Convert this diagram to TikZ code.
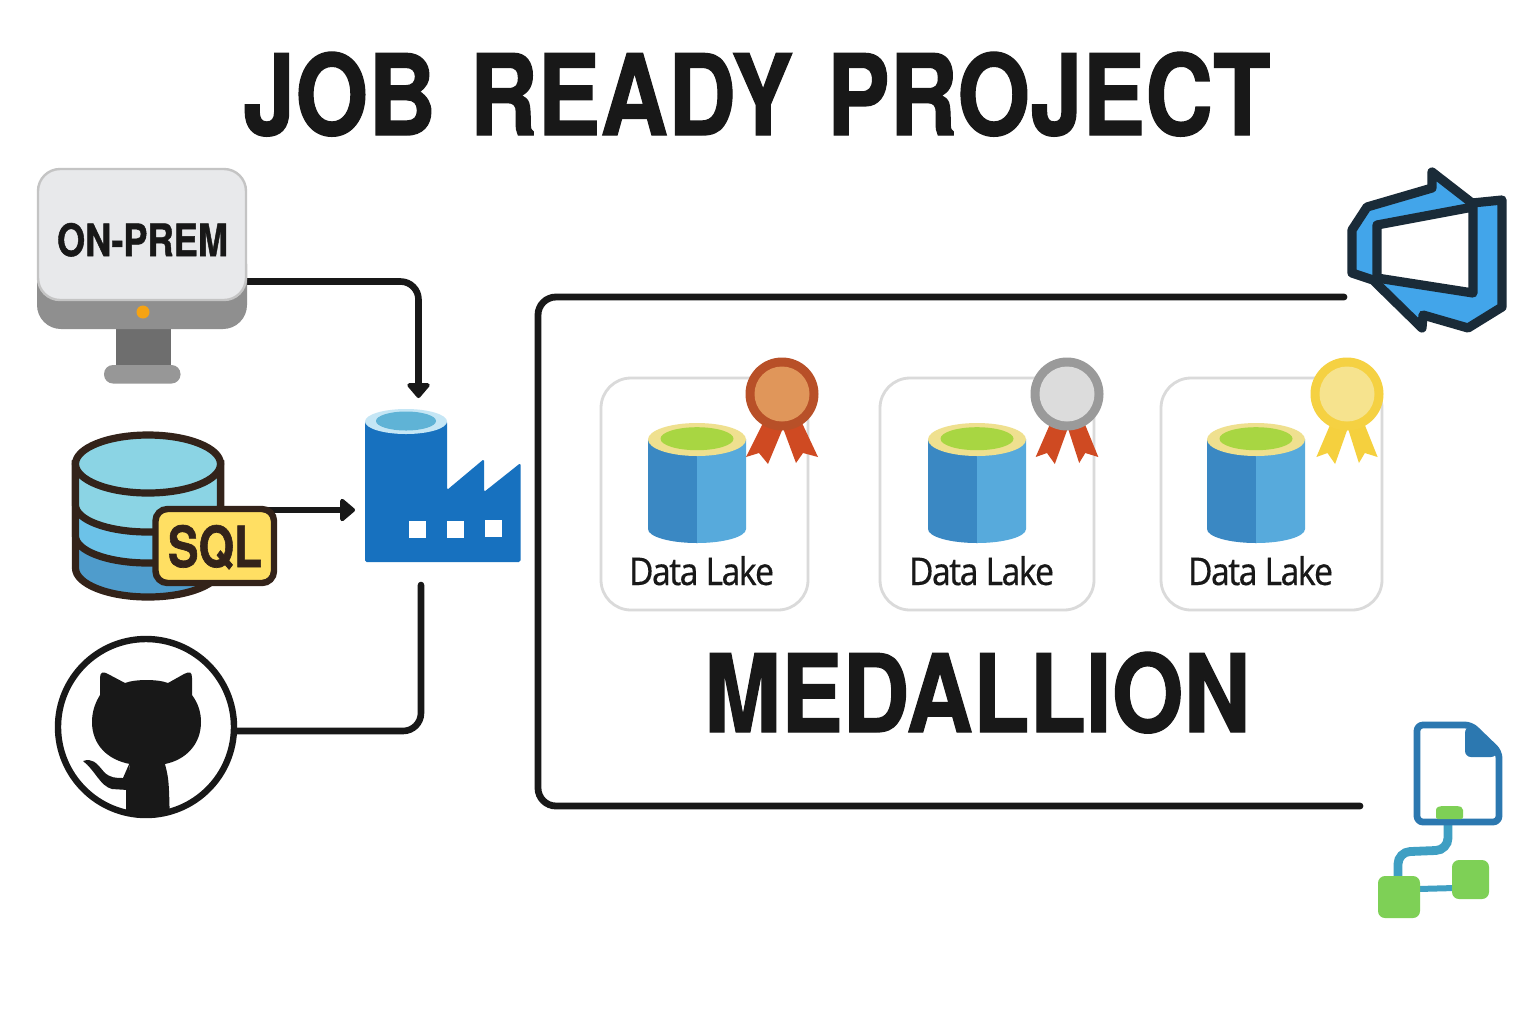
\documentclass[tikz,border=0pt]{standalone}
\usepackage{graphicx}
\usepackage{fontspec}
\setmainfont{TeX Gyre Heros}[BoldFeatures={FakeBold=1.2}]
\newfontfamily\labelfont{Noto Sans}[LetterSpace=-5,FakeBold=0.25]
\usetikzlibrary{arrows.meta}
\definecolor{ink}{HTML}{181818}
\definecolor{brownink}{HTML}{33231A}
\definecolor{devink}{HTML}{1A2B38}
\definecolor{devblue}{HTML}{42A5EA}
\definecolor{factoryblue}{HTML}{1771BF}
\definecolor{docblue}{HTML}{2C78B0}
\definecolor{linkblue}{HTML}{3F9FC3}
\definecolor{leaf}{HTML}{7ED056}
\definecolor{cardgrey}{HTML}{DADADA}
\tikzset{
  iconbox/.style={inner sep=0pt,outer sep=0pt},
  conn/.style={draw=ink,line width=3.3pt,rounded corners=9pt},
  arrowed/.style={-{Triangle[length=8pt,width=13pt,round]}},
  frameline/.style={draw=ink,line width=3.4pt,line cap=round,rounded corners=9pt},
  fitlabel/.style={inner sep=0pt,outer sep=0pt,anchor=base west,text=ink},
  dbline/.style={draw=brownink,line width=3.6pt},
  devline/.style={draw=devink,line width=4.6pt,line join=round},
  card/.style={draw=cardgrey,line width=1.4pt,fill=white,rounded corners=15pt,inner sep=0pt,outer sep=0pt}
}
% #1 name, #2 left, #3 right, #4 cylinder centre, #5 medal x, #6 ribbon scale, #7 ring, #8 disc, #9 ribbon
\newcommand\lakecard[9]{%
  \node[card,minimum width=(#3-#2)*0.5pt,minimum height=116pt] (#1) at ({(#2+#3)/2},494) {};
  \begin{scope}[shift={(#4,0)}]
    \fill[color={rgb,255:red,58;green,136;blue,195}] (-49,439) -- (-49,529) arc[start angle=180,end angle=90,x radius=49,y radius=14] -- (0,439) -- cycle;
    \fill[color={rgb,255:red,87;green,170;blue,220}] (0,439) -- (0,543) arc[start angle=90,end angle=0,x radius=49,y radius=14] -- (49,439) -- cycle;
    \fill[color={rgb,255:red,239;green,224;blue,143}] (0,439.5) ellipse[x radius=49,y radius=16.5];
    \fill[color={rgb,255:red,168;green,214;blue,66}] (0,438.7) ellipse[x radius=36.5,y radius=11.5];
  \end{scope}
  \node[fitlabel] (#1text) at (#4-68,585) {\resizebox{72.5pt}{14.5pt}{\labelfont Data Lake}};
  \begin{scope}[shift={(#5,394)},xscale=#6]
    \fill[color=#9] (-36,63) -- (-23,59) -- (-14,70) -- (1,34) -- (-19,29) -- cycle;
    \fill[color=#9] (1,34) -- (14,69) -- (21,59) -- (36,63) -- (20,29) -- cycle;
  \end{scope}
  \begin{scope}[shift={(#5,394)}]
    \fill[color=#7] (0,0) circle[radius=36.5];
    \fill[color=#8] (0,0) circle[radius=27.5];
  \end{scope}
}
\begin{document}
\begin{tikzpicture}[x=0.5pt,y=-0.5pt]
\useasboundingbox (0,0) rectangle (1536,1024);
\fill[white] (0,0) rectangle (1536,1024);

% Titles
\node[fitlabel] (title) at (243,135) {\resizebox{513.5pt}{41.5pt}{\bfseries JOB\hspace{0.08em} READY\hspace{0.08em} PROJECT}};

% Anchors of the connectors
\coordinate (armA) at (418.5,281.5);
\coordinate (armB) at (300,510);
\coordinate (armC) at (421,731);
\coordinate (armCend) at (421,585);
\coordinate (frameTop) at (538,297);
\coordinate (frameBottom) at (538,806);

% Named icon boxes
\node[iconbox,minimum width=105pt,minimum height=80.5pt] (onprem) at (142,248.5) {};
\node[iconbox,minimum width=83pt,minimum height=82pt] (factory) at (438,480) {};
\node[iconbox,minimum width=59.5pt,minimum height=40pt] (sqlbadge) at (214.5,546) {};
\node[iconbox,circle,minimum width=91pt] (github) at (146,727) {};
\node[iconbox,minimum width=80pt,minimum height=84pt] (devops) at (1427,250) {};
\node[iconbox,minimum width=64pt,minimum height=98pt] (pipeline) at (1426,820) {};

% Connectors
\draw[conn,arrowed] (onprem.east |- armA) -- (armA) -- (armA |- factory.north);
\draw[draw=ink,line width=2.8pt,arrowed,shorten <=-3pt] (sqlbadge.east |- armB) -- (factory.west |- armB);
\draw[conn,line cap=round] (github.east |- armC) -- (armC) -- (armCend);
\draw[frameline,shorten <=1.5pt,shorten >=1pt] (devops.west |- frameTop) -- (frameTop) -- (frameBottom) -- (pipeline.west |- frameBottom);

% Monitor
\fill[color={rgb,255:red,110;green,110;blue,110}] (116,325) rectangle (171,368);
\fill[color={rgb,255:red,151;green,151;blue,151},rounded corners=4.5pt] (104,365) rectangle (180.5,383.5);
\fill[color={rgb,255:red,143;green,143;blue,143},rounded corners=12pt] (37,240) rectangle (247,329);
\draw[draw={rgb,255:red,196;green,196;blue,196},line width=1.2pt,fill={rgb,255:red,232;green,233;blue,235},rounded corners=11pt] (38,169) rectangle (246,300);
\fill[color={rgb,255:red,245;green,163;blue,19}] (143,312) circle[radius=6.5];
\node[fitlabel] (onpremtext) at (57,256) {\resizebox{85.5pt}{16.5pt}{\bfseries ON-PREM}};

% Database
\draw[dbline,fill={rgb,255:red,79;green,156;blue,204}] (75.5,464) -- (75.5,568) arc[start angle=180,end angle=0,x radius=72.5,y radius=29] -- (220.5,464) -- cycle;
\draw[dbline,fill={rgb,255:red,108;green,194;blue,232}] (75.5,464) -- (75.5,536) arc[start angle=180,end angle=0,x radius=72.5,y radius=27] -- (220.5,464) -- cycle;
\draw[dbline,fill={rgb,255:red,139;green,212;blue,228}] (75.5,464) -- (75.5,505) arc[start angle=180,end angle=0,x radius=72.5,y radius=27] -- (220.5,464) -- cycle;
\draw[dbline,fill={rgb,255:red,139;green,212;blue,228}] (148,464) ellipse[x radius=72.5,y radius=29];
\draw[dbline,line width=3.2pt,fill={rgb,255:red,255;green,223;blue,99},rounded corners=6pt] (155.5,509) rectangle (274,583);
\node[fitlabel,text=brownink] (sqltext) at (168,567) {\resizebox{47pt}{21pt}{\bfseries SQL}};

% Factory
\fill[color=factoryblue,rounded corners=0.8pt] (365,421) -- (447,421) -- (447,490) -- (484,459) -- (484,492) -- (520.5,463) -- (520.5,562) -- (365,562) -- cycle;
\fill[color={rgb,255:red,197;green,230;blue,245}] (406,421.5) ellipse[x radius=41,y radius=12.5];
\fill[color={rgb,255:red,95;green,179;blue,214}] (406,421) ellipse[x radius=30,y radius=9.5];
\fill[white] (409,521) rectangle (426,538);
\fill[white] (447,521) rectangle (464,538);
\fill[white] (485,520) rectangle (502,537);

% GitHub
\begin{scope}
  \clip (146,727) circle[radius=90];
  \fill[color=ink] (100,678) .. controls (100,672) and (103,671) .. (108,674) -- (125,683) .. controls (135,679) and (158,679) .. (168,683) -- (184,674) .. controls (190,671) and (192,672) .. (192,678) -- (192,695) .. controls (198,703) and (201,712) .. (201,722) .. controls (201,745) and (185,760) .. (165,764) -- (130,764) .. controls (108,760) and (92,745) .. (92,722) .. controls (92,712) and (95,703) .. (100,695) -- cycle;
  \fill[color=ink] (131,760) -- (165,760) -- (165,764) .. controls (169,780) .. (170,830) -- (126,830) -- (126,788) -- cycle;
  \fill[color=ink] (83,761) .. controls (92,758) and (96,762) .. (104,772) .. controls (110,778) and (116,778) .. (123,778) -- (130,762) -- (128,790) -- (112,789) .. controls (100,786) and (95,770) .. (83,761) -- cycle;
\end{scope}
\draw[draw=ink,line width=3.2pt] (146,727) circle[radius=88];

% Data lake cards
\lakecard{bronze}{601}{808}{697}{782}{1}{{rgb,255:red,184;green,80;blue,40}}{{rgb,255:red,224;green,150;blue,90}}{{rgb,255:red,207;green,74;blue,34}}
\lakecard{silver}{880}{1094}{977}{1067}{0.87}{{rgb,255:red,154;green,154;blue,154}}{{rgb,255:red,220;green,220;blue,220}}{{rgb,255:red,207;green,74;blue,34}}
\lakecard{gold}{1161}{1382}{1256}{1347}{0.85}{{rgb,255:red,245;green,209;blue,66}}{{rgb,255:red,246;green,227;blue,142}}{{rgb,255:red,245;green,208;blue,62}}

\node[fitlabel] (medallion) at (704,732) {\resizebox{273pt}{40pt}{\bfseries MEDALLION}};

% Azure DevOps
\draw[devline,fill=devblue] (1352,230) -- (1367,207) -- (1432,188) -- (1432,172) -- (1472,203) -- (1502,200) -- (1502,307) -- (1468,328) -- (1423,315) -- (1422,328) -- (1373,280) -- (1352,273) -- cycle;
\draw[devline,fill=white] (1377,225) -- (1473,207) -- (1473,293) -- (1377,278) -- cycle;

% Pipeline
\draw[draw=linkblue,line width=4.4pt,rounded corners=6pt] (1448,820) -- (1448,850) -- (1398,852) -- (1398,880);
\draw[draw=linkblue,line width=3pt] (1418,889) -- (1455,888);
\draw[draw=docblue,line width=3.4pt,fill=white,line join=round,rounded corners=3pt] (1417,725) -- (1471,725) -- (1499,752) -- (1499,822) -- (1417,822) -- cycle;
\fill[color=docblue,rounded corners=3pt] (1465,727) -- (1465,757) -- (1497,757) -- (1497,752) -- (1471,725) -- cycle;
\fill[color=leaf,rounded corners=1pt] (1436,819) -- (1436,812) .. controls (1436,807) and (1440,806) .. (1444,806) -- (1455,806) .. controls (1460,806) and (1463,807) .. (1463,812) -- (1463,819) -- cycle;
\fill[color=leaf,rounded corners=3.5pt] (1378,876) rectangle (1420,918);
\fill[color=leaf,rounded corners=3.5pt] (1452,860) rectangle (1489,899);
\end{tikzpicture}
\end{document}
